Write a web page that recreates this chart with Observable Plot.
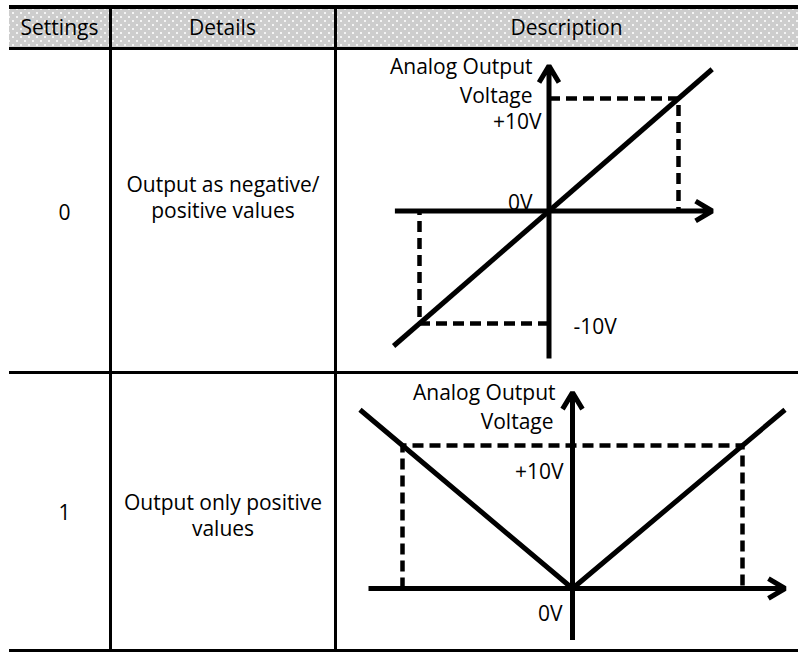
<!DOCTYPE html>
<html><head><meta charset="utf-8">
<script src="https://cdn.jsdelivr.net/npm/d3@7"></script>
<script src="https://cdn.jsdelivr.net/npm/@observablehq/plot@0.6"></script>
<style>
html,body{margin:0;padding:0;background:#fff;}
#wrap{position:relative;width:798px;height:652px;overflow:hidden;font-family:"Open Sans",sans-serif;font-size:21px;color:#000;}
.rule{position:absolute;background:#000;}
.hdr{position:absolute;left:9px;top:9px;width:789px;height:38px;background-color:#cdcdcd;
 background-image:radial-gradient(circle,#f4f4f4 0.8px,transparent 1.3px),radial-gradient(circle,#f4f4f4 0.8px,transparent 1.3px);
 background-size:8px 8px;background-position:0 0,4px 4px;}
.txt{position:absolute;text-align:center;line-height:26px;white-space:nowrap;}
.chart{position:absolute;}
.chart svg{display:block;overflow:visible;}
</style></head><body><div id="wrap"></div>
<script>
// ---- table content ----
const headers = ["Settings", "Details", "Description"];
const settings = ["0", "1"];
const details = [["Output as negative/", "positive values"], ["Output only positive", "values"]];
const axisTitle = ["Analog Output", "Voltage"];
const voltLabels = ["+10V", "0V", "-10V"];

// ---- diagram 0 : negative / positive output ----
const line0 = [{x: -12, y: -12}, {x: 12.6, y: 12.6}];
const dashPos0 = [{x: 0, y: 10}, {x: 10, y: 10}, {x: 10, y: 0}];
const dashNeg0 = [{x: 0, y: -10}, {x: -10, y: -10}, {x: -10, y: 0}];
const xAxis0 = [-11.9, 12.6];
const yAxis0 = [-13.1, 12.9];

// ---- diagram 1 : only positive output ----
const line1 = [{x: -12.5, y: 12.5}, {x: 0, y: 0}, {x: 12.5, y: 12.5}];
const dash1 = [{x: -10, y: 0}, {x: -10, y: 10}, {x: 10, y: 10}, {x: 10, y: 0}];
const xAxis1 = [-12, 12.5];
const yAxis1 = [-3.6, 13.7];

// ---- layout ----
const wrap = document.getElementById("wrap");
function el(cls, css, html) {
  const d = document.createElement("div");
  d.className = cls;
  Object.assign(d.style, css);
  if (html !== undefined) d.innerHTML = html;
  wrap.appendChild(d);
  return d;
}
el("hdr", {});
el("rule", {left: "9px", top: "5px", width: "789px", height: "4px"});
el("rule", {left: "9px", top: "47px", width: "789px", height: "3px"});
el("rule", {left: "9px", top: "370.5px", width: "789px", height: "3px"});
el("rule", {left: "9px", top: "649px", width: "789px", height: "3px"});
el("rule", {left: "108.5px", top: "9px", width: "3px", height: "640px"});
el("rule", {left: "333.5px", top: "9px", width: "3px", height: "640px"});

const cols = [[9, 110], [110, 335], [335, 798]];
headers.forEach((h, i) => el("txt", {left: cols[i][0] + "px", width: (cols[i][1] - cols[i][0]) + "px", top: "14px"}, h));
const settingTops = [199, 499];
const detailTops = [171, 489];
settings.forEach((s, i) => el("txt", {left: "19px", width: "91px", top: settingTops[i] + "px"}, s));
details.forEach((d, i) => el("txt", {left: "111px", width: "224px", top: detailTops[i] + "px"}, d.join("<br>")));

// ---- diagrams ----
const solid = {stroke: "#000", strokeWidth: 5, strokeLinecap: "butt", strokeLinejoin: "miter"};
const dashed = {stroke: "#000", strokeWidth: 4.5, strokeDasharray: "11,6", strokeLinecap: "butt", strokeLinejoin: "miter"};
const arrowOpts = {x1: "x1", y1: "y1", x2: "x2", y2: "y2", stroke: "#000", strokeWidth: 5, headAngle: 62, headLength: 5.8, strokeLinecap: "butt", strokeLinejoin: "miter"};
const txt = {fontSize: 21, fontFamily: "Open Sans", fill: "#000", lineAnchor: "bottom"};

function label(text, yv, opts) {
  return Plot.text([text], {x: () => 0, y: () => yv, text: d => d, ...txt, ...opts});
}

const p0 = Plot.plot({
  width: 460, height: 320, margin: 0,
  x: {domain: [-10, 10], range: [82, 341]},
  y: {domain: [-10, 10], range: [273, 48]},
  axis: null,
  style: {background: "transparent", overflow: "visible"},
  marks: [
    Plot.line(dashPos0, {x: "x", y: "y", ...dashed}),
    Plot.line(dashNeg0, {x: "x", y: "y", ...dashed}),
    Plot.arrow([{x1: xAxis0[0], x2: xAxis0[1], y1: 0, y2: 0}], arrowOpts),
    Plot.arrow([{x1: 0, x2: 0, y1: yAxis0[0], y2: yAxis0[1]}], arrowOpts),
    Plot.line(line0, {x: "x", y: "y", ...solid}),
    label(axisTitle[0], yAxis0[1], {textAnchor: "end", dx: -16.5, dy: 8.5}),
    label(axisTitle[1], yAxis0[1], {textAnchor: "end", dx: -16.5, dy: 37.5}),
    label(voltLabels[0], 10, {textAnchor: "end", dx: -7.5, dy: 30}),
    label(voltLabels[1], 0, {textAnchor: "end", dx: -16.5, dy: -1.5}),
    label(voltLabels[2], -10, {textAnchor: "start", dx: 24.5, dy: 10})
  ]
});
el("chart", {left: "337px", top: "50px", width: "460px", height: "320px"}).appendChild(p0);

const p1 = Plot.plot({
  width: 460, height: 275, margin: 0,
  x: {domain: [-10, 10], range: [65, 405]},
  y: {domain: [0, 10], range: [214, 71]},
  axis: null,
  style: {background: "transparent", overflow: "visible"},
  marks: [
    Plot.line(dash1, {x: "x", y: "y", ...dashed}),
    Plot.arrow([{x1: xAxis1[0], x2: xAxis1[1], y1: 0, y2: 0}], arrowOpts),
    Plot.arrow([{x1: 0, x2: 0, y1: yAxis1[0], y2: yAxis1[1]}], arrowOpts),
    Plot.line(line1, {x: "x", y: "y", ...solid}),
    label(axisTitle[0], yAxis1[1], {textAnchor: "end", dx: -17, dy: 7}),
    label(axisTitle[1], yAxis1[1], {textAnchor: "end", dx: -19, dy: 36}),
    label(voltLabels[0], 10, {textAnchor: "end", dx: -9, dy: 33}),
    label(voltLabels[1], 0, {textAnchor: "end", dx: -10, dy: 32})
  ]
});
el("chart", {left: "337px", top: "374px", width: "460px", height: "275px"}).appendChild(p1);
</script>
</body></html>
